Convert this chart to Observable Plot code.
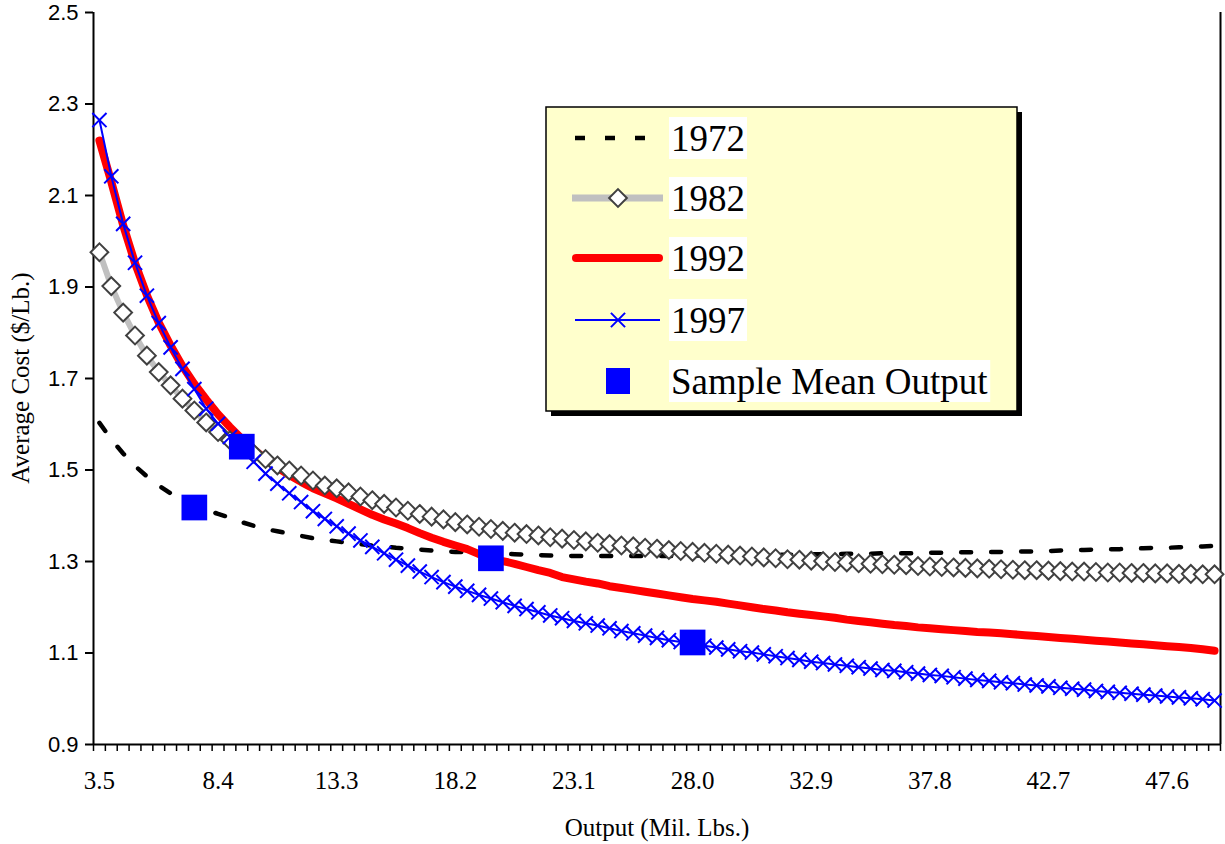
<!DOCTYPE html>
<html><head><meta charset="utf-8">
<script src="https://cdn.jsdelivr.net/npm/d3@7"></script>
<script src="https://cdn.jsdelivr.net/npm/@observablehq/plot@0.6"></script>
<style>
body{margin:0;background:#fff;}
#chart{position:relative;width:1225px;height:844px;}
</style>
</head><body><div id="chart"></div>
<script>
// Output (Mil. Lbs.) categories
const categories = [
3.50,3.99,4.48,4.97,5.46,5.95,6.44,6.93,7.42,7.91,
8.40,8.89,9.38,9.87,10.36,10.85,11.34,11.83,12.32,12.81,
13.30,13.79,14.28,14.77,15.26,15.75,16.24,16.73,17.22,17.71,
18.20,18.69,19.18,19.67,20.16,20.65,21.14,21.63,22.12,22.61,
23.10,23.59,24.08,24.57,25.06,25.55,26.04,26.53,27.02,27.51,
28.00,28.49,28.98,29.47,29.96,30.45,30.94,31.43,31.92,32.41,
32.90,33.39,33.88,34.37,34.86,35.35,35.84,36.33,36.82,37.31,
37.80,38.29,38.78,39.27,39.76,40.25,40.74,41.23,41.72,42.21,
42.70,43.19,43.68,44.17,44.66,45.15,45.64,46.13,46.62,47.11,
47.60,48.09,48.58,49.07,49.56];
const xTickLabels = ["3.5","8.4","13.3","18.2","23.1","28.0","32.9","37.8","42.7","47.6"];
const yTicks = [0.9,1.1,1.3,1.5,1.7,1.9,2.1,2.3,2.5];

const cost1972 = [
1.603,1.567,1.536,1.509,1.486,1.466,1.449,1.435,1.422,1.413,
1.404,1.396,1.386,1.378,1.371,1.366,1.361,1.356,1.351,1.347,
1.344,1.341,1.338,1.335,1.333,1.330,1.328,1.326,1.324,1.322,
1.321,1.320,1.319,1.318,1.317,1.316,1.315,1.314,1.313,1.313,
1.312,1.312,1.312,1.312,1.312,1.312,1.312,1.312,1.312,1.312,
1.313,1.313,1.313,1.313,1.314,1.314,1.314,1.315,1.315,1.315,
1.316,1.316,1.316,1.317,1.317,1.317,1.318,1.318,1.318,1.318,
1.319,1.319,1.320,1.320,1.320,1.321,1.321,1.322,1.322,1.322,
1.323,1.324,1.325,1.325,1.326,1.327,1.327,1.328,1.329,1.330,
1.330,1.331,1.332,1.333,1.334];
const cost1982 = [
1.976,1.902,1.844,1.794,1.750,1.714,1.685,1.656,1.630,1.604,
1.583,1.565,1.548,1.536,1.524,1.510,1.499,1.488,1.477,1.466,
1.460,1.451,1.442,1.434,1.426,1.418,1.411,1.404,1.398,1.392,
1.386,1.381,1.376,1.371,1.367,1.363,1.360,1.357,1.353,1.350,
1.347,1.344,1.341,1.338,1.335,1.333,1.330,1.328,1.325,1.323,
1.321,1.319,1.317,1.315,1.313,1.311,1.309,1.307,1.305,1.304,
1.302,1.301,1.299,1.298,1.296,1.295,1.294,1.293,1.292,1.290,
1.289,1.288,1.287,1.286,1.285,1.284,1.283,1.282,1.281,1.281,
1.280,1.279,1.278,1.278,1.277,1.276,1.276,1.275,1.275,1.274,
1.274,1.273,1.273,1.272,1.272];
const cost1992 = [
2.220,2.130,2.035,1.952,1.882,1.822,1.772,1.727,1.688,1.654,
1.622,1.594,1.568,1.545,1.524,1.505,1.489,1.474,1.460,1.449,
1.438,1.426,1.414,1.402,1.392,1.383,1.373,1.362,1.352,1.343,
1.335,1.327,1.316,1.307,1.301,1.295,1.288,1.281,1.275,1.266,
1.261,1.256,1.252,1.246,1.242,1.238,1.234,1.230,1.226,1.222,
1.218,1.215,1.212,1.208,1.204,1.200,1.196,1.193,1.189,1.186,
1.183,1.180,1.177,1.173,1.170,1.167,1.164,1.161,1.159,1.156,
1.154,1.152,1.150,1.148,1.146,1.145,1.143,1.141,1.139,1.137,
1.135,1.133,1.131,1.129,1.127,1.125,1.123,1.121,1.119,1.117,
1.115,1.113,1.111,1.108,1.105];
const cost1997 = [
2.265,2.142,2.038,1.953,1.881,1.821,1.768,1.721,1.677,1.634,
1.601,1.572,1.546,1.518,1.492,1.470,1.449,1.430,1.410,1.393,
1.377,1.361,1.346,1.332,1.318,1.304,1.291,1.278,1.266,1.255,
1.245,1.236,1.227,1.219,1.211,1.203,1.196,1.189,1.182,1.176,
1.170,1.165,1.160,1.154,1.148,1.143,1.138,1.133,1.128,1.124,
1.120,1.116,1.112,1.108,1.104,1.101,1.097,1.093,1.089,1.085,
1.081,1.078,1.075,1.072,1.069,1.066,1.063,1.061,1.058,1.055,
1.052,1.050,1.047,1.044,1.041,1.039,1.036,1.034,1.031,1.029,
1.027,1.024,1.022,1.020,1.017,1.015,1.013,1.011,1.009,1.007,
1.005,1.003,1.001,0.999,0.996];
const meanOutput = [7.42, 9.38, 19.67, 28.00];
const meanCost = [1.418, 1.551, 1.307, 1.123];
const seriesNames = ["1972","1982","1992","1997","Sample Mean Output"];

const half = (categories[1] - categories[0]) / 2;
const xDomain = [categories[0] - half, categories[categories.length - 1] + half];
const boundaries = [categories[0] - half, ...categories.map(c => c + half)];
const xTickValues = xTickLabels.map(Number);

const rows = vals => categories.map((c, i) => ({x: c, y: vals[i]}));
const d72 = rows(cost1972), d82 = rows(cost1982), d92 = rows(cost1992), d97 = rows(cost1997);
const means = meanOutput.map((x, i) => ({x, y: meanCost[i]}));

const SERIF = "'Liberation Serif', 'Times New Roman', serif";
const SANS = "'Liberation Sans', Arial, sans-serif";

const chart = Plot.plot({
  width: 1225, height: 844,
  marginLeft: 93, marginRight: 5, marginTop: 12, marginBottom: 100,
  style: {background: "white", color: "black", overflow: "visible"},
  x: {type: "linear", domain: xDomain},
  y: {domain: [0.9, 2.5]},
  marks: [
    Plot.axisY(yTicks, {tickSize: 8, tickPadding: 7, strokeWidth: 2, tickFormat: d => d.toFixed(1),
      fontSize: 22, fontFamily: SANS, label: null}),
    Plot.axisX(boundaries, {tickSize: 7, strokeWidth: 1.5, tickFormat: () => "", label: null}),
    Plot.axisX(xTickValues, {tickSize: 0, tickPadding: 27, tickFormat: d => xTickLabels[xTickValues.indexOf(d)],
      fontSize: 25, fontFamily: SERIF, label: null}),
    Plot.ruleY([0.9], {strokeWidth: 2}),
    Plot.ruleX([xDomain[0]], {strokeWidth: 2}),
    Plot.ruleX([xDomain[1]], {strokeWidth: 2}),
    Plot.line(d72, {x: "x", y: "y", stroke: "black", strokeWidth: 4.5, strokeDasharray: "10,20"}),
    Plot.line(d82, {x: "x", y: "y", stroke: "#c0c0c0", strokeWidth: 6}),
    Plot.line(d92, {x: "x", y: "y", stroke: "#ff0000", strokeWidth: 8, strokeLinecap: "round", strokeLinejoin: "round"}),
    Plot.line(d97, {x: "x", y: "y", stroke: "#0000ff", strokeWidth: 2}),
    Plot.dot(d82, {x: "x", y: "y", symbol: "diamond2", r: 8, fill: "white", stroke: "#404040", strokeWidth: 2}),
    Plot.dot(d97, {x: "x", y: "y", symbol: "times", r: 6.5, stroke: "#0000ff", strokeWidth: 2}),
    Plot.dot(means, {x: "x", y: "y", symbol: "square", r: 14.5, fill: "#0000ff", stroke: "none"})
  ]
});
document.getElementById("chart").appendChild(chart);

const svg = d3.select(chart);
svg.selectAll('g[aria-label="y-axis tick label"]').attr("font-size", 22).attr("font-family", SANS);
svg.selectAll('g[aria-label="y-axis tick label"] text').attr("font-size", 22);
// axis titles
svg.append("text").attr("x", 657).attr("y", 836).attr("text-anchor", "middle")
  .attr("font-family", SERIF).attr("font-size", 25).attr("fill", "black").text("Output (Mil. Lbs.)");
svg.append("text").attr("transform", "translate(29,378) rotate(-90)").attr("text-anchor", "middle")
  .attr("font-family", SERIF).attr("font-size", 25).attr("fill", "black").text("Average Cost ($/Lb.)");

// legend
const lg = svg.append("g");
lg.append("rect").attr("x", 551).attr("y", 112).attr("width", 471).attr("height", 304).attr("fill", "black");
lg.append("rect").attr("x", 546).attr("y", 107).attr("width", 471).attr("height", 304)
  .attr("fill", "#ffffcc").attr("stroke", "black").attr("stroke-width", 1.5);
const rowY = [138, 198, 258, 320, 381];
seriesNames.forEach((name, i) => {
  const g = lg.append("g");
  const t = g.append("text").attr("x", 671).attr("y", rowY[i] + 13).attr("text-anchor", "start")
    .attr("font-family", SERIF).attr("font-size", 37).attr("fill", "black").text(name);
  const bb = t.node().getBBox();
  g.insert("rect", "text").attr("x", bb.x - 2).attr("y", rowY[i] - 21).attr("width", bb.width + 4).attr("height", 42).attr("fill", "white");
});
const sym = lg.append("g");
sym.append("line").attr("x1", 575).attr("x2", 646).attr("y1", rowY[0]).attr("y2", rowY[0])
  .attr("stroke", "black").attr("stroke-width", 4.5).attr("stroke-dasharray", "10,20");
sym.append("line").attr("x1", 572).attr("x2", 663).attr("y1", rowY[1]).attr("y2", rowY[1])
  .attr("stroke", "#c0c0c0").attr("stroke-width", 7);
sym.append("path").attr("d", d3.symbol(d3.symbolDiamond2, Math.PI * 64)()).attr("transform", `translate(618,${rowY[1]})`)
  .attr("fill", "white").attr("stroke", "#404040").attr("stroke-width", 2);
sym.append("line").attr("x1", 576).attr("x2", 659).attr("y1", rowY[2]).attr("y2", rowY[2])
  .attr("stroke", "#ff0000").attr("stroke-width", 8).attr("stroke-linecap", "round");
sym.append("line").attr("x1", 575).attr("x2", 660).attr("y1", rowY[3]).attr("y2", rowY[3])
  .attr("stroke", "#0000ff").attr("stroke-width", 2);
sym.append("path").attr("d", d3.symbol(d3.symbolTimes, Math.PI * 6.5 * 6.5)()).attr("transform", `translate(618,${rowY[3]})`)
  .attr("fill", "none").attr("stroke", "#0000ff").attr("stroke-width", 2);
sym.append("rect").attr("x", 606).attr("y", rowY[4] - 13).attr("width", 24).attr("height", 26).attr("fill", "#0000ff");
</script>
</body></html>
